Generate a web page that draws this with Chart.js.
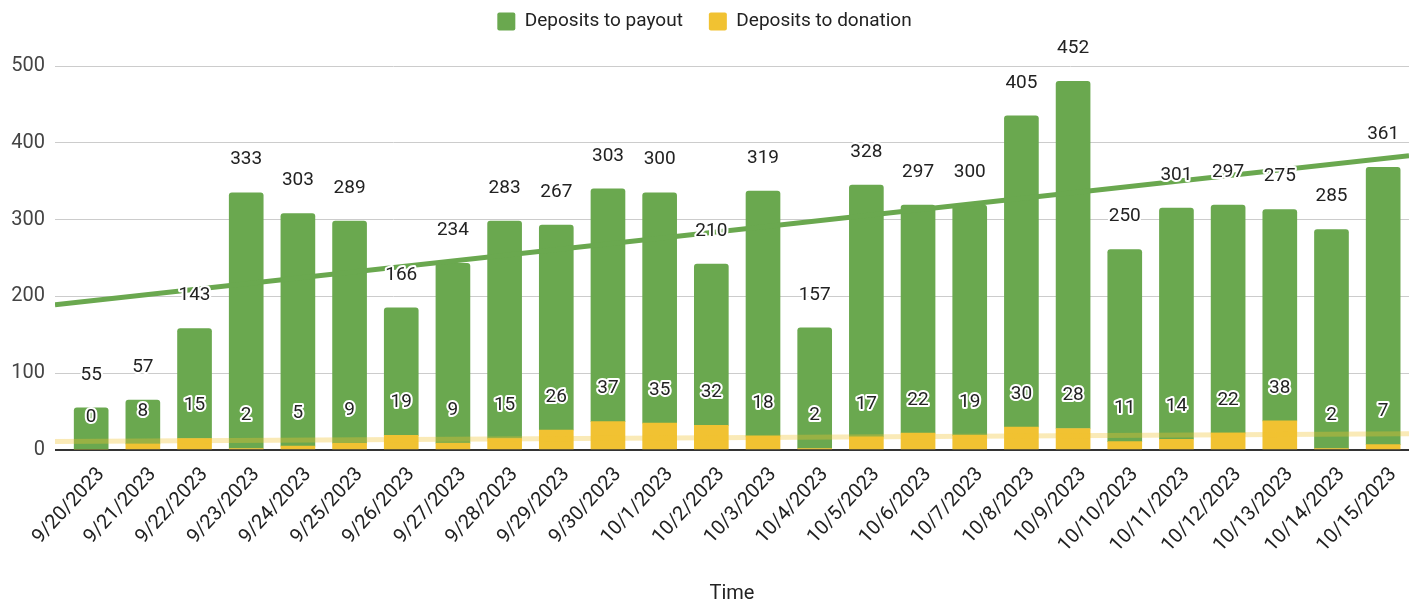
<!DOCTYPE html>
<html>
<head>
<meta charset="utf-8">
<script src="https://cdn.jsdelivr.net/npm/chart.js@4.4.0/dist/chart.umd.min.js"></script>
<style>
  html, body { margin: 0; padding: 0; background: #fff; }
  #wrap { width: 1409px; height: 602px; }
</style>
</head>
<body>
<div id="wrap"><canvas id="deposits"></canvas></div>
<script>
// dates on the x axis
const days = ['9/20/2023', '9/21/2023', '9/22/2023', '9/23/2023', '9/24/2023', '9/25/2023', '9/26/2023',
  '9/27/2023', '9/28/2023', '9/29/2023', '9/30/2023', '10/1/2023', '10/2/2023', '10/3/2023', '10/4/2023',
  '10/5/2023', '10/6/2023', '10/7/2023', '10/8/2023', '10/9/2023', '10/10/2023', '10/11/2023',
  '10/12/2023', '10/13/2023', '10/14/2023', '10/15/2023'];

const payout = [55, 57, 143, 333, 303, 289, 166, 234, 283, 267, 303, 300, 210, 319, 157,
  328, 297, 300, 405, 452, 250, 301, 297, 275, 285, 361];

const donation = [0, 8, 15, 2, 5, 9, 19, 9, 15, 26, 37, 35, 32, 18, 2,
  17, 22, 19, 30, 28, 11, 14, 22, 38, 2, 7];

// trendlines, value at left and right edge of the plot
const trendPayout = [189, 383];
const trendDonation = [11, 21];

const yTicks = [0, 100, 200, 300, 400, 500];

const xMin = -0.7;
const xMax = 25.5;

const green = '#6aa84f';
const yellow = '#f1c232';

// value labels above each segment
const barLabels = {
  id: 'barLabels',
  afterDatasetsDraw(chart) {
    const ctx = chart.ctx;
    ctx.save();
    ctx.font = '19px Roboto';
    ctx.textAlign = 'center';
    ctx.textBaseline = 'middle';
    ctx.lineJoin = 'round';
    chart.data.datasets.forEach((ds, i) => {
      if (ds.type === 'line') return;
      chart.getDatasetMeta(i).data.forEach((bar, j) => {
        const txt = String(ds.data[j].y);
        const y = bar.y - 33;
        ctx.lineWidth = 4;
        ctx.strokeStyle = '#fff';
        ctx.strokeText(txt, bar.x, y);
        ctx.fillStyle = '#222';
        ctx.fillText(txt, bar.x, y);
      });
    });
    ctx.restore();
  }
};

// keep the legend up near the top edge
const legendTop = {
  id: 'legendTop',
  afterLayout(chart) {
    const l = chart.legend;
    const h = l.height;
    l.top = -14;
    l.bottom = l.top + h;
  }
};

const ctx = document.getElementById('deposits');

new Chart(ctx, {
  type: 'bar',
  data: {
    datasets: [
      {
        label: 'Deposits to donation',
        data: donation.map((v, i) => ({ x: i, y: v })),
        backgroundColor: yellow,
        borderWidth: 0,
        order: 2
      },
      {
        label: 'Deposits to payout',
        data: payout.map((v, i) => ({ x: i, y: v })),
        backgroundColor: green,
        borderWidth: 0,
        borderRadius: 3,
        order: 2
      },
      {
        type: 'line',
        label: 'trend payout',
        stack: 'tp',
        data: [{ x: xMin, y: trendPayout[0] }, { x: xMax, y: trendPayout[1] }],
        borderColor: green,
        borderWidth: 5,
        pointRadius: 0,
        order: 1
      },
      {
        type: 'line',
        label: 'trend donation',
        stack: 'td',
        data: [{ x: xMin, y: trendDonation[0] }, { x: xMax, y: trendDonation[1] }],
        borderColor: 'rgba(241, 194, 50, 0.35)',
        borderWidth: 5,
        pointRadius: 0,
        order: 1
      }
    ]
  },
  options: {
    responsive: true,
    maintainAspectRatio: false,
    animation: false,
    datasets: { bar: { barThickness: 34 } },
    plugins: {
      tooltip: { enabled: false },
      legend: {
        position: 'top',
        labels: {
          filter: item => !item.text.startsWith('trend'),
          sort: (a, b) => b.datasetIndex - a.datasetIndex,
          boxWidth: 18,
          boxHeight: 18,
          useBorderRadius: true,
          borderRadius: 2,
          padding: 26,
          color: '#222',
          font: { family: 'Roboto', size: 19 }
        }
      }
    },
    scales: {
      x: {
        type: 'linear',
        stacked: true,
        offset: false,
        min: xMin,
        max: xMax,
        grid: { display: false },
        border: { display: false },
        afterFit: s => { s.height = 152; s.paddingLeft = 0; s.paddingRight = 0; },
        ticks: {
          stepSize: 1,
          includeBounds: false,
          autoSkip: false,
          maxRotation: 47,
          minRotation: 47,
          labelOffset: 10,
          padding: 5,
          color: '#222',
          font: { family: 'Roboto', size: 20 },
          callback: v => days[v]
        },
        title: {
          display: true,
          text: 'Time',
          color: '#222',
          font: { family: 'Roboto', size: 20 },
          padding: { top: 0, bottom: -4 }
        }
      },
      y: {
        stacked: true,
        min: 0,
        max: 500,
        afterFit: s => { s.width = 55; s.paddingTop = 66; },
        afterBuildTicks: s => { s.ticks = yTicks.map(v => ({ value: v })); },
        grid: {
          color: c => (c.tick && c.tick.value === 0 ? '#333' : '#ccc'),
          lineWidth: c => (c.tick && c.tick.value === 0 ? 2 : 1),
          drawTicks: false
        },
        border: { display: false },
        ticks: {
          padding: 10,
          color: '#444',
          font: { family: 'Roboto', size: 20 }
        }
      }
    }
  },
  plugins: [barLabels, legendTop]
});
</script>
</body>
</html>
